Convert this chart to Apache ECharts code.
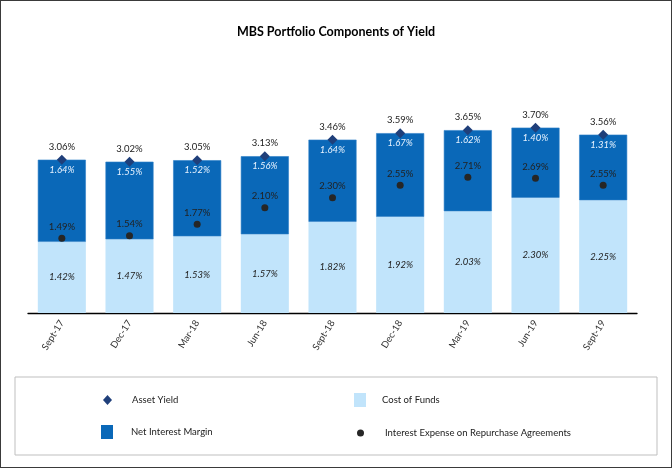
<!DOCTYPE html>
<html><head><meta charset="utf-8">
<script src="https://cdn.jsdelivr.net/npm/echarts@6/dist/echarts.min.js"></script>
<style>
html,body{margin:0;padding:0;background:#fff;}
#wrap{position:absolute;left:0;top:0;width:670px;height:466px;border:1px solid #3a3a3a;}
#c{width:672px;height:469px;position:absolute;left:-1px;top:-1px;}
</style></head>
<body><div id="wrap"><div id="c"></div></div>
<script>
const categories = ['Sept-17','Dec-17','Mar-18','Jun-18','Sept-18','Dec-18','Mar-19','Jun-19','Sept-19'];
const assetYield = [3.06,3.02,3.05,3.13,3.46,3.59,3.65,3.70,3.56];
const netInterestMargin = [1.64,1.55,1.52,1.56,1.64,1.67,1.62,1.40,1.31];
const costOfFunds = [1.42,1.47,1.53,1.57,1.82,1.92,2.03,2.30,2.25];
const repoExpense = [1.49,1.54,1.77,2.10,2.30,2.55,2.71,2.69,2.55];

const FONT = 'Lato';
const pct = p => p.value.toFixed(2) + '%';
const legText = {fontSize:9.5,color:'#222',fontFamily:FONT};
const chart = echarts.init(document.getElementById('c'));
chart.setOption({
  animation:false,
  textStyle:{fontFamily:FONT},
  title:{text:'MBS Portfolio Components of Yield',left:'center',top:20,
    textStyle:{fontSize:12.5,fontWeight:'bold',color:'#000',fontFamily:FONT}},
  grid:{left:28,right:35,top:112.6,bottom:156},
  xAxis:{type:'category',data:categories,
    axisLine:{lineStyle:{color:'#000',width:1.3}},
    axisTick:{alignWithLabel:true,length:5,lineStyle:{color:'#333'}},
    axisLabel:{rotate:58,fontSize:9.5,color:'#333',margin:8,fontFamily:FONT}},
  yAxis:{type:'value',min:0,max:4,show:false,splitLine:{show:false}},
  graphic:[{type:'rect',shape:{x:15,y:377,width:642,height:78},
    style:{fill:'none',stroke:'#bfbfbf',lineWidth:1}}],
  legend:[
    {data:[{name:'Asset Yield',icon:'diamond',itemStyle:{color:'#1F3F7A',opacity:1}}],left:98,top:390,itemWidth:9,itemHeight:10,
      textStyle:Object.assign({padding:[0,0,0,15]},legText)},
    {data:[{name:'Cost of Funds',icon:'rect',itemStyle:{color:'#C1E4FB',borderWidth:0}}],left:349,top:388,itemWidth:12,itemHeight:14,
      textStyle:Object.assign({padding:[0,0,0,11]},legText)},
    {data:[{name:'Net Interest Margin',icon:'rect',itemStyle:{color:'#0A68B8',borderWidth:0}}],left:96,top:420,itemWidth:12,itemHeight:14,
      textStyle:Object.assign({padding:[0,0,0,13]},legText)},
    {data:[{name:'Interest Expense on Repurchase Agreements',icon:'circle',itemStyle:{color:'#262626'}}],left:352,top:423,itemWidth:7,itemHeight:7,
      textStyle:Object.assign({padding:[0,0,0,16]},legText)}
  ].map(l=>Object.assign(l,{itemGap:0})),
  series:[
    {name:'Cost of Funds',type:'bar',stack:'y',data:costOfFunds,barWidth:'71%',
      itemStyle:{color:'#C1E4FB'},
      label:{show:true,position:'inside',formatter:pct,fontStyle:'italic',fontSize:9.5,color:'#222'}},
    {name:'Net Interest Margin',type:'bar',stack:'y',data:netInterestMargin,
      itemStyle:{color:'#0A68B8',borderColor:'#2E80C8',borderWidth:0.6},
      label:{show:true,position:'insideTop',distance:5,formatter:pct,fontStyle:'italic',fontSize:9.5,color:'#e8f3ff'}},
    {name:'Asset Yield',type:'scatter',data:assetYield,symbol:'diamond',symbolSize:[10,10],
      itemStyle:{color:'#1F3F7A',opacity:1},z:5,
      label:{show:true,position:'top',distance:3,formatter:pct,fontSize:9.5,color:'#222'}},
    {name:'Interest Expense on Repurchase Agreements',type:'scatter',data:repoExpense,symbol:'circle',symbolSize:7,
      itemStyle:{color:'#262626',opacity:1},z:5,
      label:{show:true,position:'top',distance:3,formatter:pct,fontSize:9.5,color:'#222'}}
  ]
});
</script></body></html>
